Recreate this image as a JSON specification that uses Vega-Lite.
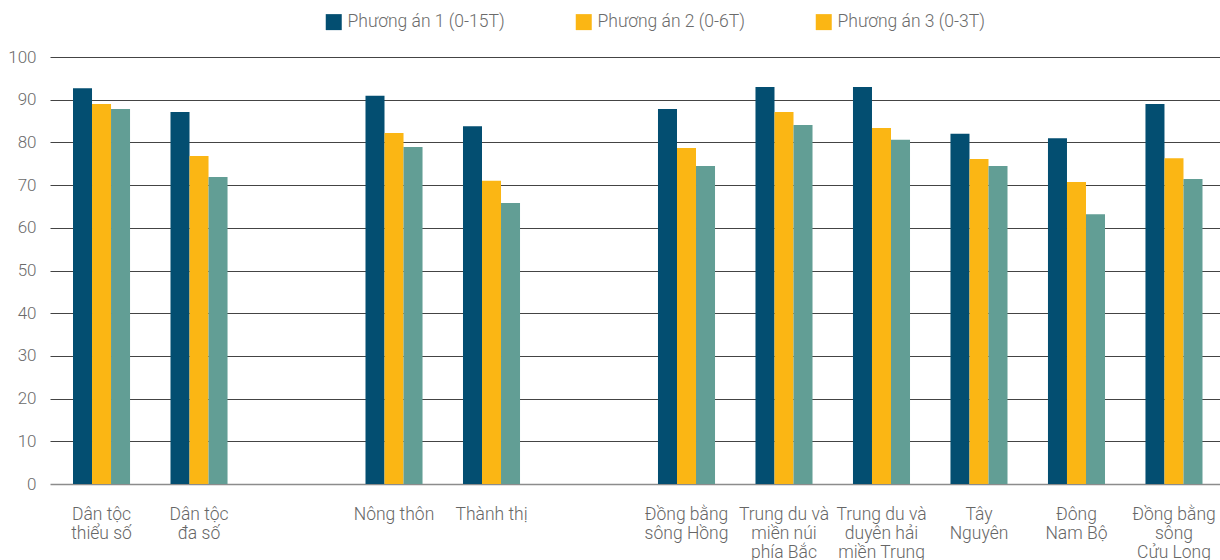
{
  "$schema": "https://vega.github.io/schema/vega-lite/v6.json",
  "width": 1170,
  "height": 427,
  "autosize": {"type": "none"},
  "padding": {"left": 50, "top": 57, "right": 0, "bottom": 76},
  "config": {"view": {"stroke": null}, "font": "Roboto"},
  "data": {
    "values": [
      {"nhom": "Dân tộc|thiểu số", "phuong_an": "Phương án 1 (0-15T)", "ty_le": 92.7},
      {"nhom": "Dân tộc|thiểu số", "phuong_an": "Phương án 2 (0-6T)", "ty_le": 89.0},
      {"nhom": "Dân tộc|thiểu số", "phuong_an": "Phương án 3 (0-3T)", "ty_le": 87.8},
      {"nhom": "Dân tộc|đa số", "phuong_an": "Phương án 1 (0-15T)", "ty_le": 87.1},
      {"nhom": "Dân tộc|đa số", "phuong_an": "Phương án 2 (0-6T)", "ty_le": 76.8},
      {"nhom": "Dân tộc|đa số", "phuong_an": "Phương án 3 (0-3T)", "ty_le": 71.9},
      {"nhom": "Nông thôn", "phuong_an": "Phương án 1 (0-15T)", "ty_le": 90.9},
      {"nhom": "Nông thôn", "phuong_an": "Phương án 2 (0-6T)", "ty_le": 82.2},
      {"nhom": "Nông thôn", "phuong_an": "Phương án 3 (0-3T)", "ty_le": 78.9},
      {"nhom": "Thành thị", "phuong_an": "Phương án 1 (0-15T)", "ty_le": 83.8},
      {"nhom": "Thành thị", "phuong_an": "Phương án 2 (0-6T)", "ty_le": 71.0},
      {"nhom": "Thành thị", "phuong_an": "Phương án 3 (0-3T)", "ty_le": 65.8},
      {"nhom": "Đồng bằng|sông Hồng", "phuong_an": "Phương án 1 (0-15T)", "ty_le": 87.8},
      {"nhom": "Đồng bằng|sông Hồng", "phuong_an": "Phương án 2 (0-6T)", "ty_le": 78.7},
      {"nhom": "Đồng bằng|sông Hồng", "phuong_an": "Phương án 3 (0-3T)", "ty_le": 74.5},
      {"nhom": "Trung du và|miền núi|phía Bắc", "phuong_an": "Phương án 1 (0-15T)", "ty_le": 93.0},
      {"nhom": "Trung du và|miền núi|phía Bắc", "phuong_an": "Phương án 2 (0-6T)", "ty_le": 87.1},
      {"nhom": "Trung du và|miền núi|phía Bắc", "phuong_an": "Phương án 3 (0-3T)", "ty_le": 84.1},
      {"nhom": "Trung du và|duyên hải|miền Trung", "phuong_an": "Phương án 1 (0-15T)", "ty_le": 93.0},
      {"nhom": "Trung du và|duyên hải|miền Trung", "phuong_an": "Phương án 2 (0-6T)", "ty_le": 83.4},
      {"nhom": "Trung du và|duyên hải|miền Trung", "phuong_an": "Phương án 3 (0-3T)", "ty_le": 80.6},
      {"nhom": "Tây|Nguyên", "phuong_an": "Phương án 1 (0-15T)", "ty_le": 82.0},
      {"nhom": "Tây|Nguyên", "phuong_an": "Phương án 2 (0-6T)", "ty_le": 76.1},
      {"nhom": "Tây|Nguyên", "phuong_an": "Phương án 3 (0-3T)", "ty_le": 74.5},
      {"nhom": "Đông|Nam Bộ", "phuong_an": "Phương án 1 (0-15T)", "ty_le": 81.0},
      {"nhom": "Đông|Nam Bộ", "phuong_an": "Phương án 2 (0-6T)", "ty_le": 70.7},
      {"nhom": "Đông|Nam Bộ", "phuong_an": "Phương án 3 (0-3T)", "ty_le": 63.2},
      {"nhom": "Đồng bằng|sông|Cửu Long", "phuong_an": "Phương án 1 (0-15T)", "ty_le": 89.0},
      {"nhom": "Đồng bằng|sông|Cửu Long", "phuong_an": "Phương án 2 (0-6T)", "ty_le": 76.3},
      {"nhom": "Đồng bằng|sông|Cửu Long", "phuong_an": "Phương án 3 (0-3T)", "ty_le": 71.4}
    ]
  },
  "encoding": {
    "x": {
      "field": "nhom",
      "type": "nominal",
      "sort": null,
      "scale": {
        "domain": [
          "Dân tộc|thiểu số", "Dân tộc|đa số", " ",
          "Nông thôn", "Thành thị", "  ",
          "Đồng bằng|sông Hồng", "Trung du và|miền núi|phía Bắc",
          "Trung du và|duyên hải|miền Trung", "Tây|Nguyên",
          "Đông|Nam Bộ", "Đồng bằng|sông|Cửu Long"
        ],
        "paddingInner": 0.415,
        "paddingOuter": 0.2077,
        "align": 0.568,
        "round": false
      },
      "axis": {
        "title": null,
        "labelExpr": "split(datum.label, '|')",
        "labelAngle": 0,
        "labelFont": "Roboto",
        "labelFontWeight": 300,
        "labelFontSize": 17.5,
        "labelLineHeight": 19,
        "labelColor": "#666666",
        "labelPadding": 21,
        "labelLimit": 200,
        "ticks": false,
        "grid": false,
        "domain": true,
        "domainColor": "#8c8c8c",
        "domainWidth": 1.5
      }
    },
    "xOffset": {
      "field": "phuong_an",
      "type": "nominal",
      "sort": ["Phương án 1 (0-15T)", "Phương án 2 (0-6T)", "Phương án 3 (0-3T)"],
      "scale": {"paddingInner": 0, "paddingOuter": 0}
    }
  },
  "layer": [
    {
      "mark": {"type": "bar"},
      "encoding": {
        "y": {
          "field": "ty_le",
          "type": "quantitative",
          "scale": {"domain": [0, 100], "nice": false},
          "axis": {
            "title": null,
            "values": [0, 10, 20, 30, 40, 50, 60, 70, 80, 90, 100],
            "domain": false,
            "ticks": false,
            "grid": true,
            "gridColor": {"condition": {"test": "datum.value === 0", "value": "transparent"}, "value": "#444444"},
            "gridWidth": 1,
            "labelFont": "Roboto",
            "labelFontWeight": 300,
            "labelFontSize": 17,
            "labelColor": "#6b6b6b",
            "labelPadding": 14,
            "labelDy": 4
          }
        },
        "fill": {
          "field": "phuong_an",
          "type": "nominal",
          "sort": ["Phương án 1 (0-15T)", "Phương án 2 (0-6T)", "Phương án 3 (0-3T)"],
          "scale": {"range": ["#034E71", "#FBB614", "#629E95"]},
          "legend": null
        }
      }
    },
    {
      "mark": {"type": "bar", "strokeWidth": 0},
      "encoding": {
        "y": {"datum": 0, "type": "quantitative"},
        "y2": {"datum": 0},
        "color": {
          "field": "phuong_an",
          "type": "nominal",
          "sort": ["Phương án 1 (0-15T)", "Phương án 2 (0-6T)", "Phương án 3 (0-3T)"],
          "scale": {"range": ["#034E71", "#FBB614", "#FBB614"]},
          "legend": {
            "title": null,
            "orient": "none",
            "legendX": 275,
            "legendY": -44,
            "direction": "horizontal",
            "symbolType": "square",
            "symbolSize": 256,
            "symbolStrokeWidth": 0,
            "symbolOpacity": 1,
            "labelFont": "Roboto",
            "labelFontWeight": 300,
            "labelFontSize": 17.5,
            "labelColor": "#6b6b6b",
            "labelOffset": 5,
            "columnPadding": 70,
            "labelLimit": 300
          }
        }
      }
    }
  ]
}
